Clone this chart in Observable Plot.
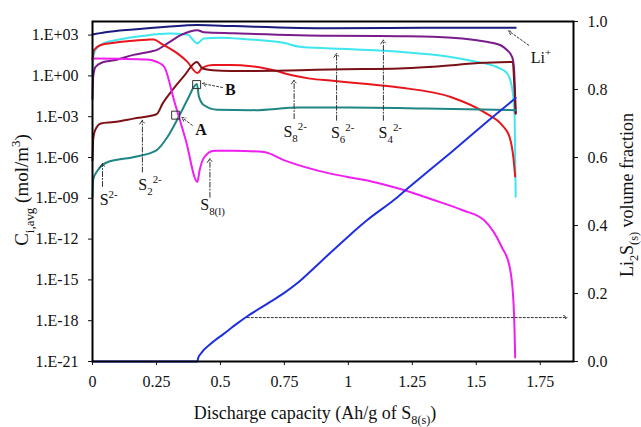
<!DOCTYPE html>
<html><head><meta charset="utf-8">
<script src="https://cdn.jsdelivr.net/npm/d3@7"></script>
<script src="https://cdn.jsdelivr.net/npm/@observablehq/plot@0.6"></script>
<style>
body{margin:0;background:#fff;}
#chart svg{display:block;}
#chart svg text{font-family:'Liberation Serif','Times New Roman',serif !important;}
</style></head><body><div id="chart"></div>
<script>
// ---- data (discharge capacity in Ah/g of S8(s), concentration in mol/m3) ----
const capLi = [0, 0.05, 0.16, 0.29, 0.41, 0.55, 0.93, 1.3, 1.654];
const cLi   = [1.1e3, 1.6e3, 2.6e3, 4.1e3, 5.5e3, 4.6e3, 3.2e3, 3.4e3, 3.5e3];

const capS6 = [0, 0.004, 0.015, 0.05, 0.1, 0.2, 0.3, 0.37, 0.41, 0.435, 0.5, 0.6, 0.75, 0.81, 0.93, 1.05, 1.2, 1.4, 1.5, 1.58, 1.62, 1.64, 1.65, 1.654];
const cS6   = [1.0, 32, 100, 280, 450, 890, 1.3e3, 1.1e3, 250, 560, 650, 500, 260, 140, 105, 85, 59, 25, 11, 4.5, 1.6, 0.13, 1e-3, 1.3e-9];

const capS8 = [0, 0.006, 0.03, 0.084, 0.215, 0.24, 0.267, 0.332, 0.371, 0.41, 0.43, 0.47, 0.54, 0.62, 0.7, 0.78, 0.85, 0.93, 1.05, 1.2, 1.4, 1.54, 1.6, 1.63, 1.645, 1.652];
const cS8   = [16, 80, 180, 270, 460, 480, 245, 45, 10.7, 1.6, 4.0, 6.2, 6.2, 5.2, 2.8, 1.1, 0.63, 0.45, 0.28, 0.14, 0.028, 1.7e-3, 2.5e-4, 3.2e-5, 1e-6, 4e-8];

const capS2 = [0, 0.003, 0.01, 0.033, 0.084, 0.16, 0.25, 0.275, 0.319, 0.358, 0.408, 0.43, 0.47, 0.54, 0.81, 0.93, 1.2, 1.33, 1.53, 1.64, 1.654];
const cS2   = [6.3e-7, 2.5e-5, 1e-4, 3.2e-4, 4e-4, 7.2e-4, 1.5e-3, 0.01, 0.13, 1.0, 10.7, 3.5, 2.6, 2.3, 2.6, 3.0, 3.5, 4.7, 9.1, 10.7, 1.7e-3];

const capS4 = [0, 0.003, 0.012, 0.04, 0.084, 0.16, 0.23, 0.25, 0.293, 0.345, 0.41, 0.436, 0.553, 0.93, 1.2, 1.33, 1.54, 1.595, 1.62, 1.64, 1.647, 1.654];
const cS4   = [0.02, 1.0, 4.7, 10, 14, 35, 63, 79, 245, 1.0e3, 2.3e3, 1.6e3, 1.35e3, 890, 830, 760, 320, 180, 80, 25, 4.7, 1.7e-3];

const capS1 = [0, 0.003, 0.02, 0.06, 0.163, 0.25, 0.293, 0.34, 0.37, 0.408, 0.416, 0.436, 0.488, 0.62, 0.81, 1.0, 1.3, 1.654];
const cS1   = [1.3e-9, 2.5e-8, 1.1e-7, 4.7e-7, 1.1e-6, 3.4e-6, 3.2e-5, 1.26e-3, 0.016, 0.25, 0.03, 6.9e-3, 3.2e-3, 3e-3, 4.7e-3, 4.7e-3, 4e-3, 3e-3];

const capS8l = [0, 0.1, 0.215, 0.25, 0.28, 0.32, 0.365, 0.41, 0.418, 0.436, 0.475, 0.55, 0.67, 0.75, 0.93, 1.07, 1.2, 1.33, 1.45, 1.53, 1.6, 1.63, 1.645, 1.65, 1.652];
const cS8l   = [19, 18, 16, 11, 4.7, 0.013, 1.8e-5, 1.6e-8, 1e-7, 1e-6, 3.2e-6, 3.2e-6, 2.5e-6, 6.2e-7, 6.5e-8, 2.1e-8, 5e-9, 7.9e-10, 1.26e-10, 2.5e-11, 2.5e-13, 1e-14, 3.2e-17, 1e-19, 2e-21];

// Li2S(s) volume fraction (right axis)
const capLi2S = [0, 0.41, 0.413, 0.423, 0.462, 0.514, 0.566, 0.605, 0.684, 0.748, 0.814, 0.846, 0.93, 1.0, 1.074, 1.178, 1.23, 1.4, 1.55, 1.654];
const fLi2S   = [0, 0, 0.01, 0.023, 0.052, 0.082, 0.112, 0.133, 0.17, 0.201, 0.239, 0.261, 0.32, 0.368, 0.416, 0.475, 0.508, 0.614, 0.71, 0.775];

const xTicks = [0, 0.25, 0.5, 0.75, 1, 1.25, 1.5, 1.75];
const yTicks = [1e-21, 1e-18, 1e-15, 1e-12, 1e-9, 1e-6, 1e-3, 1e0, 1e3];
const fracTicks = [0, 0.2, 0.4, 0.6, 0.8, 1.0];

// annotations in data coordinates
const labels = [
  {parts: [["S"], ["2-", "sup"]], x: 0.03, y: 3e-10},
  {parts: [["S"], ["2", "sub"], ["2-", "sup"]], x: 0.181, y: 3.8e-9},
  {parts: [["A"]], bold: true, x: 0.404, y: 4.3e-5},
  {parts: [["B"]], bold: true, x: 0.52, y: 0.038},
  {parts: [["S"], ["8(l)", "sub"]], x: 0.423, y: 1.26e-10},
  {parts: [["S"], ["8", "sub"], ["2-", "sup"]], x: 0.748, y: 3.1e-5},
  {parts: [["S"], ["6", "sub"], ["2-", "sup"]], x: 0.934, y: 2.6e-5},
  {parts: [["S"], ["4", "sub"], ["2-", "sup"]], x: 1.12, y: 2.6e-5},
  {parts: [["Li"], ["+", "sup"]], x: 1.715, y: 8.7}
];
const dashArrows = [
  {x1: 0.039, y1: 7.4e-9, x2: 0.039, y2: 3.6e-7},
  {x1: 0.195, y1: 8.5e-8, x2: 0.195, y2: 5.5e-4},
  {x1: 0.459, y1: 1.2e-9, x2: 0.459, y2: 8.3e-7},
  {x1: 0.788, y1: 7.2e-4, x2: 0.788, y2: 0.49},
  {x1: 0.954, y1: 5.5e-4, x2: 0.954, y2: 45},
  {x1: 1.137, y1: 5.5e-4, x2: 1.137, y2: 430}
];
const dotArrows = [
  {x1: 1.705, y1: 180, x2: 1.627, y2: 2000},
  {x1: 0.39, y1: 2.3e-4, x2: 0.35, y2: 8.7e-4},
  {x1: 0.508, y1: 0.14, x2: 0.43, y2: 0.275},
  {x1: 0.605, y1: 1.7e-18, x2: 1.855, y2: 1.7e-18}
];
const boxes = [{x: 0.325, y: 1.3e-3}, {x: 0.407, y: 0.23}];

// ---- build ----
const FONT = "'Liberation Serif', 'Times New Roman', serif";
const zip = (xs, ys) => xs.map((x, i) => ({x, y: ys[i]}));
const series = [
  {d: zip(capLi, cLi), c: "#1b1b7d"},
  {d: zip(capS6, cS6), c: "#3ee6f0"},
  {d: zip(capS4, cS4), c: "#7a1b8c"},
  {d: zip(capS8, cS8), c: "#e8161c"},
  {d: zip(capS2, cS2), c: "#7b1016"},
  {d: zip(capS1, cS1), c: "#1f8585"},
  {d: zip(capS8l, cS8l), c: "#f01ef0"}
];
const fracToY = f => Math.pow(10, -21 + 25 * f);
const li2s = zip(capLi2S, fLi2S);
const fmtLeft = v => { const e = Math.round(Math.log10(v)); return "1.E" + (e < 0 ? "-" : "+") + String(Math.abs(e)).padStart(2, "0"); };

const plot = Plot.plot({
  width: 641, height: 427,
  marginLeft: 92, marginRight: 68, marginTop: 21, marginBottom: 66,
  style: {fontFamily: FONT, fontSize: "16px", background: "white", color: "#111"},
  x: {domain: [0, 1.88]},
  y: {type: "log", domain: [1e-21, 1e4]},
  marks: [
    ...series.map(s => Plot.line(s.d, {x: "x", y: "y", stroke: s.c, strokeWidth: 2, curve: "monotone-x"})),
    Plot.line(li2s, {x: "x", y: d => fracToY(d.y), stroke: "#1f2fe0", strokeWidth: 2, curve: "monotone-x"}),
    Plot.arrow(dashArrows, {x1: "x1", y1: "y1", x2: "x2", y2: "y2", stroke: "#333", strokeWidth: 1, strokeDasharray: "5,2,1,2", headLength: 7, headAngle: 70}),
    Plot.arrow(dotArrows, {x1: "x1", y1: "y1", x2: "x2", y2: "y2", stroke: "#333", strokeWidth: 1, strokeDasharray: "2,2", headLength: 6, headAngle: 60}),
    Plot.dot(boxes, {x: "x", y: "y", symbol: "square", r: 4.5, stroke: "#333", strokeWidth: 1, fill: "none"}),
    Plot.frame({stroke: "black", strokeWidth: 2}),
    Plot.axisY({anchor: "left", ticks: yTicks, tickFormat: fmtLeft, tickSize: 4, tickPadding: 10, label: null, fontFamily: FONT, fontSize: 16}),
    Plot.axisY({anchor: "right", ticks: fracTicks.map(fracToY), tickFormat: v => ((Math.log10(v) + 21) / 25).toFixed(1), tickSize: 4, tickPadding: 10, label: null, fontFamily: FONT, fontSize: 16}),
    Plot.axisX({ticks: xTicks, tickFormat: d => String(d), tickSize: 4, tickPadding: 10, label: null, fontFamily: FONT, fontSize: 16})
  ]
});
document.getElementById("chart").append(plot);

const sx = plot.scale("x"), sy = plot.scale("y");
const svg = d3.select(plot);
svg.selectAll("text").attr("font-family", FONT).style("font-family", FONT).style("font-variant", "normal");
function rich(x, y, parts, {size = 16, weight = "normal", rotate = 0, anchor = "start"} = {}) {
  const t = svg.append("text").attr("font-size", size).attr("font-weight", weight)
    .attr("text-anchor", anchor).attr("fill", "#111")
    .attr("font-family", FONT).style("font-family", FONT);
  if (rotate) t.attr("transform", `translate(${x},${y}) rotate(${rotate})`);
  else t.attr("x", x).attr("y", y);
  let shift = 0;
  for (const [s, kind] of parts) {
    const target = kind === "sub" ? size * 0.3 : kind === "sup" ? -size * 0.42 : 0;
    t.append("tspan").text(s).attr("dy", target - shift).attr("font-size", kind ? size * 0.68 : size);
    shift = target;
  }
}
for (const l of labels) rich(sx.apply(l.x), sy.apply(l.y), l.parts, {size: 16, weight: l.bold ? "bold" : "normal"});

rich(315, 419, [["Discharge capacity (Ah/g of S"], ["8(s)", "sub"], [")"]], {size: 18, anchor: "middle"});
rich(28, 190, [["C"], ["i,avg", "sub"], [" (mol/m"], ["3", "sup"], [")"]], {size: 19, anchor: "middle", rotate: -90});
rich(633, 195, [["Li"], ["2", "sub"], ["S"], ["(s)", "sub"], [" volume fraction"]], {size: 18, anchor: "middle", rotate: -90});
</script></body></html>
